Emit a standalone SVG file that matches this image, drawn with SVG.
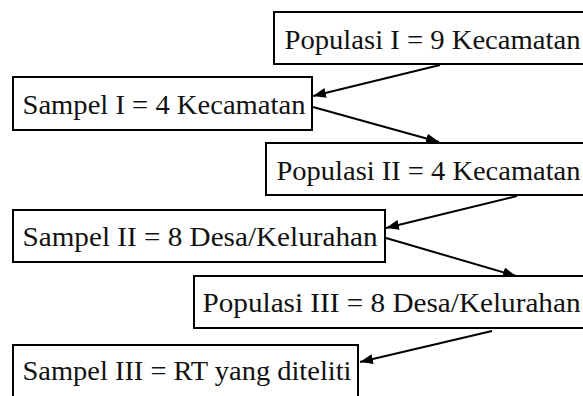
<svg xmlns="http://www.w3.org/2000/svg" width="583" height="396" viewBox="0 0 583 396">
<style>
.box{fill:#fff;stroke:#000;stroke-width:2}
.lbl{font-family:"Liberation Serif","Times New Roman",serif;font-size:28px;fill:#111}
.conn{stroke:#000;stroke-width:2;fill:none;marker-end:url(#ah)}
</style>
<defs>
<marker id="ah" markerUnits="userSpaceOnUse" markerWidth="14" markerHeight="11" refX="13" refY="5" orient="auto">
<path d="M0,0 L13,5 L0,10 z" fill="#000"/>
</marker>
</defs>
<rect width="583" height="396" fill="#fff"/>
<g id="n1"><rect class="box" x="274" y="12" width="320" height="52"/><text class="lbl" x="284.5" y="48.5" textLength="296" lengthAdjust="spacingAndGlyphs">Populasi I = 9 Kecamatan</text></g>
<g id="n2"><rect class="box" x="13" y="77" width="299" height="53"/><text class="lbl" x="22.5" y="113.5" textLength="283" lengthAdjust="spacingAndGlyphs">Sampel I = 4 Kecamatan</text></g>
<g id="n3"><rect class="box" x="266" y="143" width="330" height="52"/><text class="lbl" x="276.5" y="179.5" textLength="304" lengthAdjust="spacingAndGlyphs">Populasi II = 4 Kecamatan</text></g>
<g id="n4"><rect class="box" x="13" y="210" width="372" height="52"/><text class="lbl" x="22.5" y="246" textLength="355" lengthAdjust="spacingAndGlyphs">Sampel II = 8 Desa/Kelurahan</text></g>
<g id="n5"><rect class="box" x="194" y="276" width="400" height="52"/><text class="lbl" x="202.5" y="312" textLength="378" lengthAdjust="spacingAndGlyphs">Populasi III = 8 Desa/Kelurahan</text></g>
<g id="n6"><rect class="box" x="13" y="345" width="345" height="60"/><text class="lbl" x="22.5" y="379.5" textLength="329" lengthAdjust="spacingAndGlyphs">Sampel III = RT yang diteliti</text></g>
<g id="connectors">
<line class="conn" x1="440" y1="65" x2="313" y2="96"/>
<line class="conn" x1="313" y1="107" x2="439" y2="142"/>
<line class="conn" x1="517" y1="196" x2="386" y2="228"/>
<line class="conn" x1="386" y1="238" x2="516" y2="276"/>
<line class="conn" x1="492" y1="331" x2="360" y2="362"/>
</g>
</svg>
